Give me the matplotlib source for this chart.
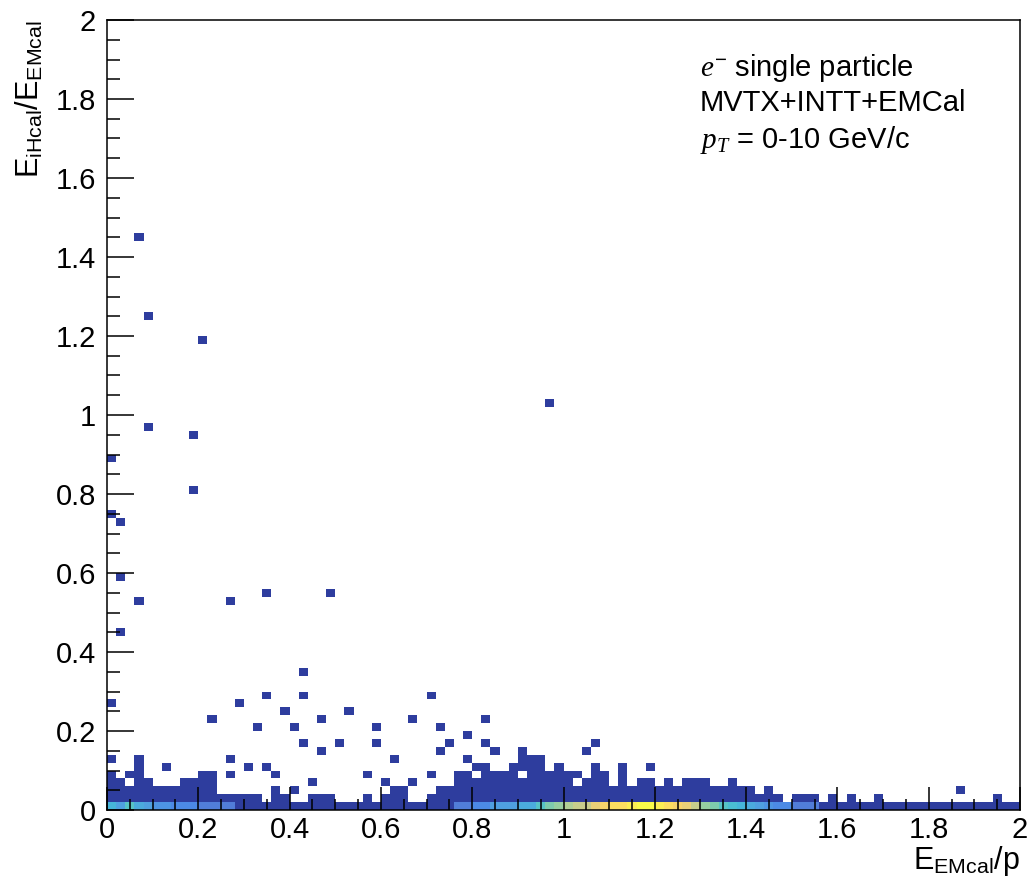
import numpy as np
import matplotlib
matplotlib.use("Agg")
import matplotlib.pyplot as plt
from matplotlib.colors import ListedColormap, BoundaryNorm

plt.rcParams['font.family'] = ['Liberation Sans', 'DejaVu Sans']
plt.rcParams['mathtext.fontset'] = 'custom'
plt.rcParams['mathtext.rm'] = 'Liberation Sans'
plt.rcParams['mathtext.it'] = 'Liberation Serif:italic'
plt.rcParams['mathtext.bf'] = 'Liberation Sans:bold'

# ---------------- data ----------------
x_edges = np.linspace(0.0, 2.0, 101)   # E_EMcal/p bins
y_edges = np.linspace(0.0, 2.0, 101)   # E_iHcal/E_EMcal bins

# counts in the lowest y bin (0-0.02), one per x bin
bottom_row_counts = [
    130, 88, 170, 108, 86, 66, 64, 46, 44, 42,
    28, 26, 24, 22, 14, 12, 10, 9, 8, 8,
    7, 6, 8, 7, 6, 5, 6, 7, 6, 5,
    6, 7, 8, 6, 7, 8, 10, 12, 28, 30,
    46, 50, 86, 88, 90, 106, 110, 166, 208, 228,
    248, 268, 272, 306, 328, 346, 352, 366, 400, 392,
    368, 348, 326, 306, 270, 230, 206, 168, 148, 128,
    106, 86, 66, 48, 44, 28, 26, 24, 14, 12,
    10, 9, 8, 7, 7, 6, 6, 5, 5, 4,
    4, 4, 3, 3, 3, 3, 2, 3, 2, 2,
]

# number of contiguous filled y bins directly above the lowest bin (low counts)
stack_heights = [
    4, 3, 2, 6, 3, 2, 2, 2, 3, 3,
    4, 4, 1, 1, 1, 1, 1, 0, 2, 1,
    0, 0, 1, 1, 1, 0, 0, 0, 1, 0,
    1, 2, 2, 0, 0, 1, 2, 2, 4, 4,
    3, 5, 4, 4, 5, 3, 6, 6, 4, 5,
    4, 2, 3, 5, 4, 2, 5, 2, 3, 3,
    2, 3, 2, 3, 3, 3, 2, 2, 3, 2,
    2, 1, 2, 1, 0, 1, 1, 1, 0, 1,
    0, 1, 0, 0, 1, 0, 0, 0, 0, 0,
    0, 0, 0, 0, 0, 0, 0, 1, 0, 0,
]

# isolated single entries (E_EMcal/p, E_iHcal/E_EMcal)
isolated_x = [0.01, 0.01, 0.01, 0.01, 0.03, 0.03, 0.03, 0.05, 0.07, 0.07,
              0.09, 0.09, 0.13, 0.19, 0.19, 0.21, 0.23, 0.27, 0.27, 0.27,
              0.29, 0.31, 0.33, 0.35, 0.35, 0.35, 0.37, 0.39, 0.41, 0.41,
              0.43, 0.43, 0.43, 0.45, 0.47, 0.47, 0.49, 0.51, 0.53, 0.57,
              0.59, 0.59, 0.61, 0.63, 0.67, 0.67, 0.71, 0.71, 0.73, 0.73,
              0.75, 0.79, 0.79, 0.81, 0.83, 0.83, 0.85, 0.91, 0.91, 0.91,
              0.97, 1.03, 1.05, 1.07, 1.19, 1.87]
isolated_y = [0.13, 0.27, 0.75, 0.89, 0.45, 0.59, 0.73, 0.09, 0.53, 1.45,
              0.97, 1.25, 0.11, 0.81, 0.95, 1.19, 0.23, 0.09, 0.13, 0.53,
              0.27, 0.11, 0.21, 0.11, 0.29, 0.55, 0.09, 0.25, 0.05, 0.21,
              0.17, 0.29, 0.35, 0.07, 0.15, 0.23, 0.55, 0.17, 0.25, 0.09,
              0.17, 0.21, 0.07, 0.13, 0.07, 0.23, 0.09, 0.29, 0.15, 0.21,
              0.17, 0.13, 0.19, 0.11, 0.17, 0.23, 0.15, 0.11, 0.13, 0.15,
              1.03, 0.09, 0.15, 0.17, 0.11, 0.05]

# ---------------- build entries ----------------
xc = 0.5 * (x_edges[:-1] + x_edges[1:])
yc = 0.5 * (y_edges[:-1] + y_edges[1:])
ex, ey, ew = [], [], []
for i, c in enumerate(bottom_row_counts):
    ex.append(xc[i]); ey.append(yc[0]); ew.append(c)
for i, h in enumerate(stack_heights):
    for r in range(1, h + 1):
        ex.append(xc[i]); ey.append(yc[r]); ew.append(2 if r == 1 else 1)
for x, y in zip(isolated_x, isolated_y):
    ex.append(x); ey.append(y); ew.append(1)

# ROOT kBird-like palette, 20 contour levels (upper levels slightly lighter)
stops = [0.0, 0.125, 0.25, 0.375, 0.5, 0.625, 0.75, 0.875, 1.0]
red = [0.2082, 0.0592, 0.0780, 0.0232, 0.1802, 0.5301, 0.8186, 0.9956, 0.9764]
green = [0.1664, 0.3599, 0.5041, 0.6419, 0.7178, 0.7492, 0.7328, 0.7862, 0.9832]
blue = [0.5293, 0.8684, 0.8385, 0.7914, 0.6425, 0.4662, 0.3499, 0.1968, 0.0539]
ncont = 20
cols = []
for i in range(ncont):
    idx = min(int((i + 0.99) * 255 / ncont), 254)
    t = idx / 254.0
    c = np.array([np.interp(t, stops, red), np.interp(t, stops, green), np.interp(t, stops, blue)])
    if i == 0:
        c = np.array([0.18, 0.24, 0.62])
    else:
        c = c * 0.75 + 0.25
    cols.append(tuple(c))
cmap = ListedColormap(cols)
zmax = max(bottom_row_counts) * 1.0001
norm = BoundaryNorm(np.linspace(0, zmax, ncont + 1), ncont)

# ---------------- figure ----------------
W, H = 1033, 882
fig = plt.figure(figsize=(W / 100, H / 100), dpi=100)
ax = fig.add_axes([107 / W, 1 - 810 / H, (1020 - 107) / W, (810 - 20) / H])

ax.hist2d(ex, ey, bins=[x_edges, y_edges], weights=ew, cmap=cmap, norm=norm, cmin=0.5)

ax.set_xlim(0, 2)
ax.set_ylim(0, 2)
ax.set_xticks(np.arange(0, 2.01, 0.2))
ax.set_yticks(np.arange(0, 2.01, 0.2))
ax.set_xticks(np.arange(0, 2.001, 0.05), minor=True)
ax.set_yticks(np.arange(0, 2.001, 0.05), minor=True)

def fmt(v):
    s = f"{v:.1f}"
    if s.endswith(".0"):
        s = s[:-2]
    return s

ax.set_xticklabels([fmt(v) for v in np.arange(0, 2.01, 0.2)])
ax.set_yticklabels([fmt(v) for v in np.arange(0, 2.01, 0.2)])

ax.tick_params(axis='x', which='major', direction='in', length=16.5, width=1.1,
               labelsize=21, pad=4, top=False)
ax.tick_params(axis='x', which='minor', direction='in', length=8, width=1.1, top=False)
ax.tick_params(axis='y', which='major', direction='in', length=19.5, width=1.1,
               labelsize=21, pad=8, right=False)
ax.tick_params(axis='y', which='minor', direction='in', length=9.7, width=1.1, right=False)
for sp in ax.spines.values():
    sp.set_linewidth(1.1)

# axis titles
fig.text(1020 / W, 1 - 869 / H, r"E$_{\mathrm{EMcal}}$/p", fontsize=22,
         ha='right', va='baseline')
fig.text(14 / W, 1 - 20 / H, r"E$_{\mathrm{iHcal}}$/E$_{\mathrm{EMcal}}$", fontsize=22,
         rotation=90, ha='left', va='top')

# annotation
fig.text(700 / W, 1 - 76 / H, r"$\mathit{e}^{-}$ single particle", fontsize=21, va='baseline')
fig.text(700 / W, 1 - 111 / H, "MVTX+INTT+EMCal", fontsize=21, va='baseline')
fig.text(700 / W, 1 - 148 / H, r"$\mathit{p}_{\mathit{T}}$ = 0-10 GeV/c", fontsize=21, va='baseline')

fig.savefig("out.png", dpi=100)
